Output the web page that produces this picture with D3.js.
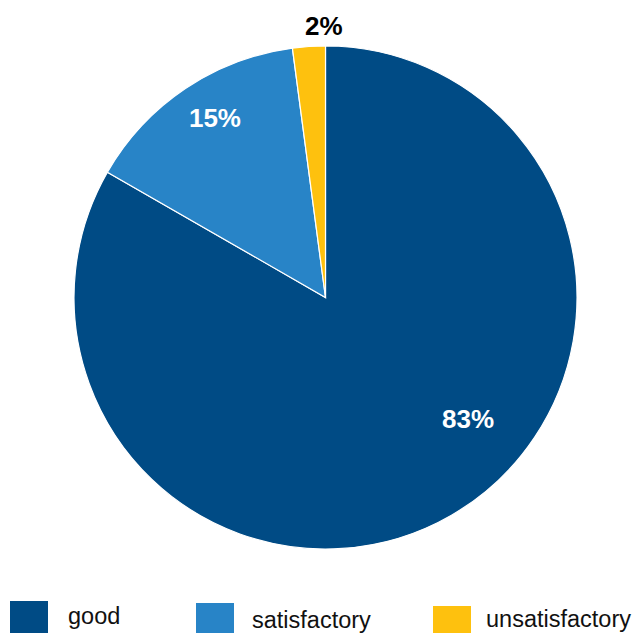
<!DOCTYPE html>
<html><head><meta charset="utf-8">
<script src="https://cdn.jsdelivr.net/npm/d3@7"></script>
<style>html,body{margin:0;padding:0;background:#fff;overflow:hidden}</style>
</head><body>
<svg id="c" width="635" height="633"></svg>
<script>
const categories = ["good", "satisfactory", "unsatisfactory"];
const values = [83.3, 14.6, 2.1];
const labels = ["83%", "15%", "2%"];
const colors = ["#004B85", "#2884C7", "#FEC10E"];

const svg = d3.select("#c");
const cx = 325.5, cy = 297.5, r = 251.5;
const g = svg.append("g").attr("transform", `translate(${cx},${cy})`);

const pie = d3.pie().sort(null).value(d => d)(values);
const arc = d3.arc().innerRadius(0).outerRadius(r);

g.selectAll("path").data(pie).enter().append("path")
  .attr("d", arc)
  .attr("fill", (d, i) => colors[i])
  .attr("stroke", "#fff").attr("stroke-width", 1.2);

// label placement: [angle shift (rad), radius factor, text colour]
const labelLayout = [
  {da: -0.34, rf: 0.745, col: "#fff"},
  {da: 0.04, rf: 0.84, col: "#fff"},
  {da: 0.06, rf: 1.08, col: "#000"}
];
g.selectAll("text.lbl").data(pie).enter().append("text")
  .attr("class", "lbl")
  .attr("transform", (d, i) => {
    const L = labelLayout[i];
    const a = (d.startAngle + d.endAngle) / 2 + L.da;
    const rr = r * L.rf;
    return `translate(${Math.sin(a) * rr},${-Math.cos(a) * rr})`;
  })
  .attr("text-anchor", "middle")
  .attr("dy", "0.36em")
  .attr("fill", (d, i) => labelLayout[i].col)
  .style("font-family", "Liberation Sans, Arial, sans-serif")
  .style("font-weight", "bold")
  .style("font-size", "26px")
  .text((d, i) => labels[i]);

// legend
const legendX = [10, 196, 433];
const legendY = [601, 603, 606];
const textX = [68, 252, 486];
const textY = [624, 628, 627];
const lg = svg.selectAll("g.leg").data(categories).enter().append("g").attr("class", "leg");
lg.append("rect").attr("x", (d, i) => legendX[i]).attr("y", (d, i) => legendY[i])
  .attr("width", 38).attr("height", 38).attr("fill", (d, i) => colors[i]);
lg.append("text").attr("x", (d, i) => textX[i]).attr("y", (d, i) => textY[i])
  .style("font-family", "Liberation Sans, Arial, sans-serif")
  .style("font-size", "23.5px").attr("fill", "#111")
  .text(d => d);
</script>
</body></html>
